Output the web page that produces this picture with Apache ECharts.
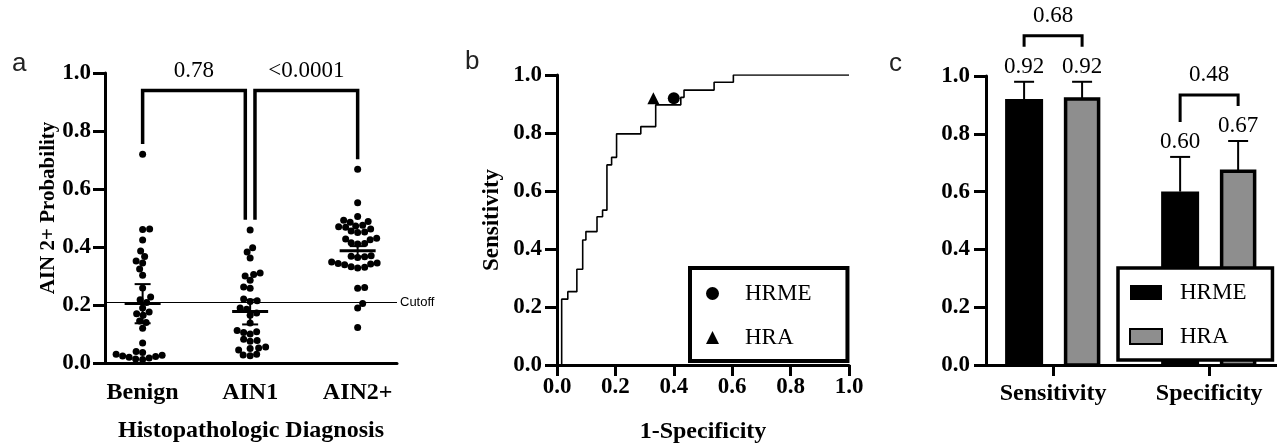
<!DOCTYPE html>
<html><head><meta charset="utf-8">
<script src="https://cdn.jsdelivr.net/npm/echarts@6/dist/echarts.min.js"></script>
<style>html,body{margin:0;padding:0;background:#fff}#c{width:1277px;height:448px}</style>
</head><body><div id="c"></div>
<script>
// ================= DATA =================
// Panel a: AIN 2+ probability by histopathologic diagnosis
const groupNames = ['Benign', 'AIN1', 'AIN2+'];
const benign = [0.72, 0.462, 0.460, 0.424, 0.386, 0.367, 0.352, 0.345, 0.324, 0.303,
  0.259, 0.228, 0.218, 0.209, 0.190, 0.176, 0.170, 0.165, 0.145, 0.140,
  0.120, 0.069, 0.040, 0.036, 0.030, 0.027, 0.024, 0.022, 0.020, 0.017, 0.014, 0.012];
const ain1 = [0.459, 0.397, 0.383, 0.362, 0.310, 0.305, 0.300, 0.285, 0.262, 0.258,
  0.221, 0.215, 0.212, 0.190, 0.185, 0.172, 0.165, 0.138, 0.112, 0.108,
  0.105, 0.100, 0.082, 0.078, 0.075, 0.055, 0.052, 0.050, 0.045, 0.030, 0.028, 0.025];
const ain2 = [0.668, 0.553, 0.505, 0.492, 0.488, 0.485, 0.475, 0.472, 0.470, 0.468,
  0.462, 0.455, 0.452, 0.450, 0.430, 0.428, 0.425, 0.415, 0.412, 0.410,
  0.370, 0.368, 0.366, 0.364, 0.348, 0.345, 0.343, 0.341, 0.339, 0.332,
  0.330, 0.328, 0.260, 0.258, 0.205, 0.190, 0.122];
const groupMean = [0.205, 0.178, 0.387];
const groupLow = [0.137, 0.133, 0.367];
const groupHigh = [0.272, 0.218, 0.403];
const cutoff = 0.21;
const comparisonsA = [[0, 1], [1, 2]];
const pValuesA = ['0.78', '<0.0001'];

// Panel b: ROC curve (step corners)
const rocFpr = [0, 0.016, 0.037, 0.068, 0.088, 0.099, 0.137, 0.156, 0.171, 0.187, 0.204, 0.287, 0.338, 0.424, 0.435, 0.538, 0.604, 1.0];
const rocTpr = [0, 0.227, 0.253, 0.330, 0.431, 0.460, 0.511, 0.534, 0.690, 0.716, 0.797, 0.822, 0.897, 0.923, 0.948, 0.975, 1.0, 1.0];

// Panel c: sensitivity / specificity
const metrics = ['Sensitivity', 'Specificity'];
const hrmeValues = [0.92, 0.60];
const hrmeUpper = [0.98, 0.72];
const hraValues = [0.92, 0.67];
const hraUpper = [0.98, 0.775];
const pValuesC = ['0.68', '0.48'];

// ================= LAYOUT / STYLE =================
const SERIF = "'Liberation Serif','Times New Roman',serif";
const SANS = "'Liberation Sans',Arial,sans-serif";
const boldText = { color: '#000', fontFamily: SERIF, fontWeight: 'bold', fontSize: 23 };
const boldTitle = { color: '#000', fontFamily: SERIF, fontWeight: 'bold', fontSize: 24 };
const gridA = { left: 105, top: 73, width: 292, height: 290 };
const gridB = { left: 557, top: 75, width: 292, height: 290 };
const gridC = { left: 986, top: 76, width: 291, height: 289 };
const xMinA = -0.35, xMaxA = 2.366;
const xMinC = -0.43, xMaxC = 1.435;

// beeswarm offsets (computed in pixel space so dots don't overlap)
function swarm(values, pxX, pxY, d) {
  const order = values.map((v, i) => i).sort((a, b) => values[a] - values[b]);
  const placed = [];
  const offs = new Array(values.length);
  order.forEach((i, n) => {
    const y = values[i] * pxY;
    let found = null;
    const signs = n % 2 ? [-1, 1] : [1, -1];
    for (let s = 0; s < 300 && found === null; s += 0.5) {
      for (const sg of signs) {
        const x = s * sg;
        if (placed.every(p => (p.x - x) ** 2 + (p.y - y) ** 2 >= d * d)) { found = x; break; }
      }
    }
    placed.push({ x: found, y });
    offs[i] = found / pxX;
  });
  return offs;
}
const groups = [benign, ain1, ain2];
const pxXA = gridA.width / (xMaxA - xMinA), pxYA = gridA.height;
const dotsData = [];
groups.forEach((g, gi) => {
  const offs = swarm(g, pxXA, pxYA, 6.6);
  g.forEach((v, k) => dotsData.push([gi + offs[k], v]));
});

function axisBase(extra) {
  return Object.assign({
    type: 'value',
    axisLine: { show: true, onZero: false, lineStyle: { color: '#000', width: 3 } },
    axisTick: { show: true, length: 12, lineStyle: { color: '#000', width: 3 } },
    splitLine: { show: false },
    nameMoveOverlap: false
  }, extra);
}

function renderMean(params, api) {
  const c = api.value(0);
  const pm = api.coord([c, api.value(1)]);
  const pl = api.coord([c, api.value(2)]);
  const ph = api.coord([c, api.value(3)]);
  const st = { stroke: '#000', lineWidth: 2 };
  return { type: 'group', children: [
    { type: 'line', shape: { x1: pl[0], y1: pl[1], x2: ph[0], y2: ph[1] }, style: st },
    { type: 'line', shape: { x1: pl[0] - 8, y1: pl[1], x2: pl[0] + 8, y2: pl[1] }, style: st },
    { type: 'line', shape: { x1: ph[0] - 8, y1: ph[1], x2: ph[0] + 8, y2: ph[1] }, style: st },
    { type: 'line', shape: { x1: pm[0] - 18, y1: pm[1], x2: pm[0] + 18, y2: pm[1] }, style: { stroke: '#000', lineWidth: 3 } }
  ] };
}

function renderBracketA(params, api) {
  const i = api.value(0), j = api.value(1), top = api.value(2);
  const shift = 0.045;
  const xi = i + (comparisonsA.some(c => c[1] === i) ? shift : 0);
  const xj = j - (comparisonsA.some(c => c[0] === j) ? shift : 0);
  const yi = Math.max(...groups[i]) + 0.035;
  const yj = Math.max(...groups[j]) + 0.035;
  const p1 = api.coord([xi, yi]), p2 = api.coord([xi, top]), p3 = api.coord([xj, top]), p4 = api.coord([xj, yj]);
  return { type: 'group', children: [
    { type: 'polyline', shape: { points: [p1, p2, p3, p4] }, style: { stroke: '#000', fill: 'none', lineWidth: 3.5 } },
    { type: 'text', x: (p2[0] + p3[0]) / 2, y: p2[1] - 19,
      style: { text: pValuesA[params.dataIndex], fill: '#000', font: '23px ' + SERIF, align: 'center', verticalAlign: 'middle' } }
  ] };
}

const BAR_DX = 29;
function makeBarRender(dx, w, fill, stroke, lw) {
  return function (params, api) {
    const c = api.value(0), v = api.value(1), hi = api.value(2);
    const base = api.coord([c, 0]), top = api.coord([c, v]), cap = api.coord([c, hi]);
    const cx = base[0] + dx;
    return { type: 'group', children: [
      { type: 'line', shape: { x1: cx, y1: top[1], x2: cx, y2: cap[1] }, style: { stroke: '#000', lineWidth: 2 } },
      { type: 'line', shape: { x1: cx - 10, y1: cap[1], x2: cx + 10, y2: cap[1] }, style: { stroke: '#000', lineWidth: 2 } },
      { type: 'rect', shape: { x: cx - w / 2, y: top[1], width: w, height: base[1] - top[1] },
        style: { fill: fill, stroke: stroke, lineWidth: lw } },
      { type: 'text', x: cx, y: cap[1] - 15,
        style: { text: v.toFixed(2), fill: '#000', font: '23px ' + SERIF, align: 'center', verticalAlign: 'middle' } }
    ] };
  };
}

function renderBracketC(params, api) {
  const c = api.value(0);
  const base = api.coord([c, 0]);
  const c1 = api.coord([c, api.value(1)]), c2 = api.coord([c, api.value(2)]);
  const x1 = base[0] - BAR_DX, x2 = base[0] + BAR_DX;
  const l1 = c1[1] - 15 - 20, l2 = c2[1] - 15 - 20;
  const top = Math.min(l1, l2) - 11;
  return { type: 'group', children: [
    { type: 'polyline', shape: { points: [[x1, l1], [x1, top], [x2, top], [x2, l2]] }, style: { stroke: '#000', fill: 'none', lineWidth: 3 } },
    { type: 'text', x: (x1 + x2) / 2, y: top - 20,
      style: { text: pValuesC[params.dataIndex], fill: '#000', font: '23px ' + SERIF, align: 'center', verticalAlign: 'middle' } }
  ] };
}

const option = {
  animation: false,
  backgroundColor: '#fff',
  textStyle: { fontFamily: SERIF },
  grid: [
    Object.assign({ outerBoundsMode: 'none', containLabel: false }, gridA),
    Object.assign({ outerBoundsMode: 'none', containLabel: false }, gridB),
    Object.assign({ outerBoundsMode: 'none', containLabel: false }, gridC)
  ],
  xAxis: [
    axisBase({ gridIndex: 0, min: xMinA, max: xMaxA,
      axisTick: { show: false },
      axisLabel: Object.assign({ customValues: [0, 1, 2], formatter: v => groupNames[Math.round(v)], margin: 18 }, boldTitle),
      name: 'Histopathologic Diagnosis', nameLocation: 'middle', nameGap: 56, nameTextStyle: boldTitle }),
    axisBase({ gridIndex: 1, min: 0, max: 1, interval: 0.2,
      axisTick: { show: true, length: 11, lineStyle: { color: '#000', width: 3 } },
      axisLabel: Object.assign({ formatter: v => v.toFixed(1), margin: 11 }, boldText),
      name: '1-Specificity', nameLocation: 'middle', nameGap: 55, nameTextStyle: boldTitle }),
    axisBase({ gridIndex: 2, min: xMinC, max: xMaxC,
      axisTick: { show: true, length: 11, customValues: [0, 1], lineStyle: { color: '#000', width: 3 } },
      axisLabel: Object.assign({ customValues: [0, 1], formatter: v => metrics[Math.round(v)], margin: 17 }, boldTitle) })
  ],
  yAxis: [
    axisBase({ gridIndex: 0, min: 0, max: 1, interval: 0.2,
      axisLabel: Object.assign({ formatter: v => v.toFixed(1), margin: 14 }, boldText),
      name: 'AIN 2+ Probability', nameLocation: 'middle', nameGap: 46,
      nameTextStyle: Object.assign({}, boldText, { fontSize: 21, padding: [0, 0, 0, 20] }) }),
    axisBase({ gridIndex: 1, min: 0, max: 1, interval: 0.2,
      axisLabel: Object.assign({ formatter: v => v.toFixed(1), margin: 15 }, boldText),
      name: 'Sensitivity', nameLocation: 'middle', nameGap: 53, nameTextStyle: boldText }),
    axisBase({ gridIndex: 2, min: 0, max: 1, interval: 0.2,
      axisLabel: Object.assign({ formatter: v => v.toFixed(1), margin: 16 }, boldText) })
  ],
  legend: [
    { orient: 'vertical', left: 690, top: 268, padding: [14, 36, 12, 16], itemGap: 21,
      itemWidth: 13, itemHeight: 13, borderColor: '#000', borderWidth: 4, backgroundColor: '#fff',
      selectedMode: false,
      data: [{ name: 'HRME', icon: 'circle' }, { name: 'HRA', icon: 'triangle' }],
      itemStyle: { color: '#000', opacity: 1 },
      textStyle: { color: '#000', fontFamily: SERIF, fontSize: 23, padding: [0, 0, 0, 21] } },
    { orient: 'vertical', left: 1118, top: 268, padding: [13, 26, 12, 11], itemGap: 21,
      itemWidth: 32, itemHeight: 15, borderColor: '#000', borderWidth: 3.5, backgroundColor: '#fff',
      selectedMode: false, icon: 'rect',
      data: ['HRME ', 'HRA '],
      formatter: n => n.trim(),
      textStyle: { color: '#000', fontFamily: SERIF, fontSize: 23, padding: [0, 0, 0, 13] } }
  ],
  graphic: [
    { type: 'text', x: 12, y: 64, style: { text: 'a', fill: '#222', font: '26px ' + SANS, verticalAlign: 'middle' } },
    { type: 'text', x: 465, y: 62, style: { text: 'b', fill: '#222', font: '26px ' + SANS, verticalAlign: 'middle' } },
    { type: 'text', x: 889, y: 64, style: { text: 'c', fill: '#222', font: '26px ' + SANS, verticalAlign: 'middle' } }
  ],
  series: [
    { type: 'scatter', xAxisIndex: 0, yAxisIndex: 0, data: dotsData, symbolSize: 7,
      itemStyle: { color: '#000', opacity: 1 }, z: 2, silent: true,
      markLine: { silent: true, symbol: 'none', animation: false,
        data: [{ yAxis: cutoff }],
        lineStyle: { color: '#000', width: 1.2, type: 'solid' },
        label: { show: true, position: 'end', formatter: 'Cutoff', color: '#000', fontFamily: SANS, fontSize: 13, padding: [0, 0, 20, 0], distance: 3 } } },
    { type: 'custom', xAxisIndex: 0, yAxisIndex: 0, renderItem: renderMean, z: 3, silent: true,
      data: groupMean.map((m, i) => [i, m, groupLow[i], groupHigh[i]]), encode: { x: 0, y: [1, 2, 3] } },
    { type: 'custom', xAxisIndex: 0, yAxisIndex: 0, renderItem: renderBracketA, z: 3, clip: false, silent: true,
      data: comparisonsA.map(c => [c[0], c[1], 0.94]), encode: { x: [0, 1], y: 2 } },
    { type: 'line', xAxisIndex: 1, yAxisIndex: 1, step: 'end', showSymbol: false, symbol: 'none', silent: true,
      data: rocFpr.map((f, i) => [f, rocTpr[i]]), lineStyle: { color: '#000', width: 1.6 }, z: 2 },
    { type: 'scatter', name: 'HRME', xAxisIndex: 1, yAxisIndex: 1, symbol: 'circle', symbolSize: 12,
      data: [[1 - hrmeValues[1], hrmeValues[0]]], itemStyle: { color: '#000', opacity: 1 }, z: 4, silent: true },
    { type: 'scatter', name: 'HRA', xAxisIndex: 1, yAxisIndex: 1, symbol: 'triangle', symbolSize: 12,
      data: [[1 - hraValues[1], hraValues[0]]], itemStyle: { color: '#000', opacity: 1 }, z: 4, silent: true },
    { type: 'custom', name: 'HRME ', xAxisIndex: 2, yAxisIndex: 2, z: 2, silent: true,
      renderItem: makeBarRender(-BAR_DX, 38, '#000', '#000', 0),
      itemStyle: { color: '#000' },
      data: hrmeValues.map((v, k) => [k, v, hrmeUpper[k]]), encode: { x: 0, y: [1, 2] } },
    { type: 'custom', name: 'HRA ', xAxisIndex: 2, yAxisIndex: 2, z: 2, silent: true,
      renderItem: makeBarRender(BAR_DX, 33, '#8e8e8e', '#000', 3.5),
      itemStyle: { color: '#8e8e8e', borderColor: '#000', borderWidth: 3 },
      data: hraValues.map((v, k) => [k, v, hraUpper[k]]), encode: { x: 0, y: [1, 2] } },
    { type: 'custom', xAxisIndex: 2, yAxisIndex: 2, z: 3, clip: false, silent: true,
      renderItem: renderBracketC,
      data: metrics.map((m, k) => [k, hrmeUpper[k], hraUpper[k]]), encode: { x: 0, y: [1, 2] } }
  ]
};

const chart = echarts.init(document.getElementById('c'), null, { renderer: 'canvas' });
chart.setOption(option);
</script>
</body></html>
